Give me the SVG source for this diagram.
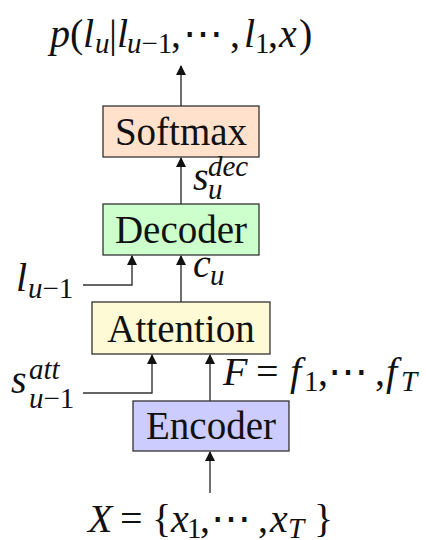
<svg xmlns="http://www.w3.org/2000/svg" width="426" height="540" viewBox="0 0 426 540">
<style>
.box{stroke:#333;stroke-width:1.3}
.lbl{font-family:"Liberation Serif","DejaVu Serif",serif;font-size:39px;fill:#111;text-anchor:middle}
.m{font-family:"Liberation Serif","DejaVu Serif",serif;font-size:40px;fill:#111}
.i{font-style:italic}
.n{font-style:normal}
.s{font-size:29px}
.con{fill:none;stroke:#333;stroke-width:1.4}
</style>
<defs>
<marker id="ah" viewBox="0 0 10 14" refX="9" refY="7" markerWidth="10" markerHeight="14" markerUnits="userSpaceOnUse" orient="auto">
<path d="M0,2 L10,7 L0,12 z" fill="#111"/>
</marker>
</defs>
<rect width="426" height="540" fill="#fff"/>
<g id="output-label">
<text class="m" y="47"><tspan class="i" x="50">p</tspan><tspan x="70">(</tspan><tspan class="i" x="83">l</tspan><tspan class="i s" x="95" y="53">u</tspan><tspan x="109" y="47">|</tspan><tspan class="i" x="117">l</tspan><tspan class="s" x="127" y="53"><tspan class="i">u</tspan>−1</tspan><tspan x="171" y="47">,</tspan><tspan x="183">⋯</tspan><tspan x="230">,</tspan><tspan class="i" x="244">l</tspan><tspan class="s" x="255" y="53">1</tspan><tspan x="268" y="47">,</tspan><tspan class="i" x="279">x</tspan><tspan x="299">)</tspan></text>
</g>
<g id="softmax">
<rect class="box" x="103" y="106" width="156" height="51" fill="#FFE1CC"/>
<text class="lbl" x="181" y="145">Softmax</text>
</g>
<g id="decoder">
<rect class="box" x="103" y="204" width="156" height="51" fill="#CCFFCC"/>
<text class="lbl" x="181" y="243">Decoder</text>
</g>
<g id="attention">
<rect class="box" x="92" y="302" width="178" height="52" fill="#FFFAD6"/>
<text class="lbl" x="181" y="342">Attention</text>
</g>
<g id="encoder">
<rect class="box" x="133" y="401" width="156" height="50" fill="#CCCCFF"/>
<text class="lbl" x="211" y="439">Encoder</text>
</g>
<g id="connectors">
<line class="con" x1="181" y1="106" x2="181" y2="66" marker-end="url(#ah)"/>
<line class="con" x1="181" y1="204" x2="181" y2="158" marker-end="url(#ah)"/>
<line class="con" x1="181" y1="302" x2="181" y2="256" marker-end="url(#ah)"/>
<path class="con" d="M83,285 H132 V256" marker-end="url(#ah)"/>
<line class="con" x1="210" y1="401" x2="210" y2="355" marker-end="url(#ah)"/>
<path class="con" d="M83,393 H152 V355" marker-end="url(#ah)"/>
<line class="con" x1="210" y1="493" x2="210" y2="452" marker-end="url(#ah)"/>
</g>
<g id="labels">
<text class="m i" y="190"><tspan x="193">s</tspan><tspan class="s" x="208" y="176">dec</tspan><tspan class="s" x="208" y="199">u</tspan></text>
<text class="m i" y="277"><tspan x="193">c</tspan><tspan class="s" x="210" y="285">u</tspan></text>
<text class="m" y="291"><tspan class="i" x="16">l</tspan><tspan class="s" x="28" y="298"><tspan class="i">u</tspan>−1</tspan></text>
<text class="m i" y="393"><tspan x="11">s</tspan><tspan class="s" x="29" y="379">att</tspan><tspan class="s" x="29" y="408">u<tspan class="n">−1</tspan></tspan></text>
<text class="m" y="385"><tspan class="i" x="223">F</tspan><tspan x="256">=</tspan><tspan class="i" x="290">f</tspan><tspan class="s" x="304" y="391">1</tspan><tspan x="318" y="385">,</tspan><tspan x="328">⋯</tspan><tspan x="375">,</tspan><tspan class="i" x="386">f</tspan><tspan class="s i" x="401" y="391">T</tspan></text>
<text class="m" y="532"><tspan class="i" x="88">X</tspan><tspan x="120">=</tspan><tspan x="152">{</tspan><tspan class="i" x="171">x</tspan><tspan class="s" x="187" y="538">1</tspan><tspan x="200" y="532">,</tspan><tspan x="211">⋯</tspan><tspan x="258">,</tspan><tspan class="i" x="270">x</tspan><tspan class="s i" x="288" y="538">T</tspan><tspan x="314" y="532">}</tspan></text>
</g>
</svg>
